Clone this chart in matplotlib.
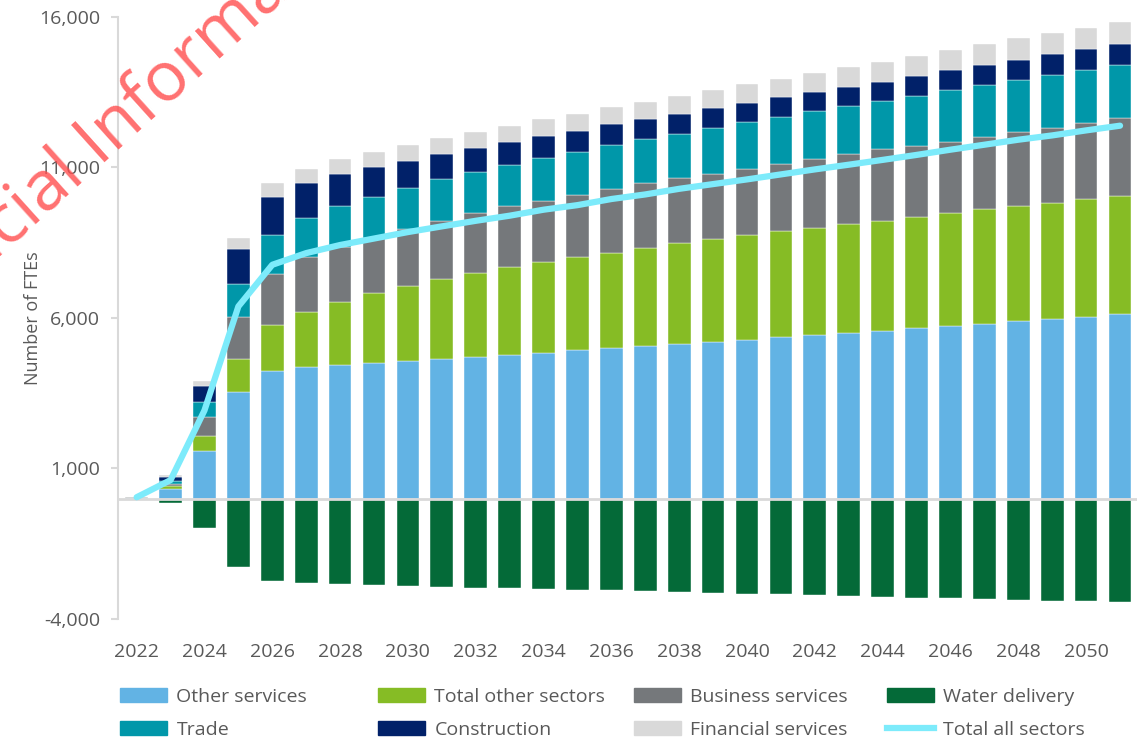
import numpy as np
import matplotlib
matplotlib.use("Agg")
import matplotlib.pyplot as plt
from matplotlib.patches import Patch
from matplotlib.lines import Line2D
from matplotlib.ticker import FuncFormatter

plt.rcParams['font.family'] = ['Open Sans', 'DejaVu Sans']

# FTE change by sector, 2022-2051
years = list(range(2022, 2052))
other_services = [20, 320, 1581, 3531, 4229, 4362, 4439, 4495, 4571, 4638,
                  4714, 4771, 4847, 4937, 4993, 5070, 5146, 5213, 5279, 5359,
                  5445, 5502, 5578, 5658, 5724, 5811, 5890, 5967, 6033, 6123]
other_sectors = [10, 90, 509, 1107, 1528, 1847, 2093, 2326, 2502, 2658,
                 2791, 2923, 3024, 3100, 3177, 3270, 3336, 3402, 3469, 3521,
                 3545, 3621, 3655, 3708, 3754, 3800, 3831, 3864, 3920, 3940]
business_services = [15, 80, 621, 1405, 1715, 1808, 1837, 1839, 1877, 1937,
                     1973, 2027, 2026, 2060, 2106, 2135, 2159, 2169, 2212, 2236,
                     2282, 2316, 2372, 2364, 2380, 2414, 2458, 2491, 2515, 2572]
trade = [10, 90, 488, 1077, 1276, 1295, 1352, 1370, 1379, 1375,
         1382, 1372, 1429, 1428, 1472, 1462, 1472, 1538, 1540, 1572,
         1595, 1604, 1604, 1655, 1706, 1706, 1728, 1751, 1771, 1780]
construction = [5, 150, 542, 1182, 1282, 1183, 1063, 977, 897, 841,
                778, 764, 721, 698, 687, 664, 674, 655, 643, 644,
                631, 642, 642, 650, 665, 674, 675, 698, 708, 698]
financial_services = [5, 40, 176, 345, 465, 465, 488, 493, 522, 521,
                      551, 522, 554, 554, 565, 574, 598, 598, 621, 618,
                      652, 644, 664, 675, 675, 688, 710, 687, 698, 721]
water_delivery = [-20, -155, -987, -2262, -2727, -2804, -2847, -2860, -2893, -2926,
                  -2960, -2980, -3003, -3027, -3047, -3070, -3093, -3126, -3159, -3179,
                  -3213, -3236, -3262, -3292, -3312, -3336, -3369, -3392, -3412, -3445]
total_all = [45, 615, 2930, 6385, 7768, 8156, 8425, 8640, 8855, 9044,
             9229, 9399, 9598, 9750, 9953, 10105, 10292, 10449, 10605, 10771,
             10937, 11093, 11253, 11418, 11592, 11757, 11923, 12066, 12233, 12389]

stack = [
    ("Other services", other_services, "#62B3E4"),
    ("Total other sectors", other_sectors, "#86BC25"),
    ("Business services", business_services, "#75787B"),
    ("Trade", trade, "#0097A9"),
    ("Construction", construction, "#012169"),
    ("Financial services", financial_services, "#D9D9D9"),
]
water_color = "#046A38"
line_color = "#7DEBFB"
text_grey = "#595959"
axis_grey = "#D9D9D9"

W, H = 1147, 747
fig = plt.figure(figsize=(W / 100, H / 100), dpi=100)
ax = fig.add_axes([118 / W, 1 - 619 / H, (1137 - 118) / W, (619 - 17) / H])

x = np.array(years)
bottom = np.zeros(len(years))
for name, vals, col in stack:
    ax.bar(x, vals, width=0.67, bottom=bottom, color=col,
           edgecolor="white", linewidth=0.3, zorder=2)
    bottom += np.array(vals)
ax.bar(x, water_delivery, width=0.67, color=water_color,
       edgecolor="white", linewidth=0.3, zorder=2)
ax.plot(x, total_all, color=line_color, linewidth=4.5,
        solid_capstyle="round", zorder=4)

ax.axhline(0, color=axis_grey, linewidth=2, zorder=3)

ax.set_xlim(2021.45, 2051.5)
ax.set_ylim(-4000, 16000)
ax.set_yticks([-4000, 1000, 6000, 11000, 16000])
ax.yaxis.set_major_formatter(FuncFormatter(lambda v, p: "{:,.0f}".format(v)))
ax.set_xticks(years[::2])

for s in ["top", "right", "bottom"]:
    ax.spines[s].set_visible(False)
ax.spines["left"].set_color(axis_grey)
ax.spines["left"].set_linewidth(1.5)
ax.tick_params(axis="y", colors=axis_grey, length=5, width=1.5,
               labelcolor=text_grey, labelsize=14, pad=8)
ax.tick_params(axis="x", length=0, labelcolor=text_grey, labelsize=14, pad=17)
ax.set_ylabel("Number of FTEs", color=text_grey, fontsize=13)
ax.yaxis.set_label_coords(-0.075, 0.5)

# legend: four columns placed by hand so the spacing matches
legend_cols = [
    (120, [Patch(color=stack[0][2]), Patch(color=stack[3][2])],
     [stack[0][0], stack[3][0]]),
    (378, [Patch(color=stack[1][2]), Patch(color=stack[4][2])],
     [stack[1][0], stack[4][0]]),
    (634, [Patch(color=stack[2][2]), Patch(color=stack[5][2])],
     [stack[2][0], stack[5][0]]),
    (887, [Patch(color=water_color), Line2D([], [], color=line_color, linewidth=4.5)],
     ["Water delivery", "Total all sectors"]),
]
for lx, handles, labels in legend_cols:
    fig.legend(handles, labels, loc="upper left",
               bbox_to_anchor=(lx / W, 1 - 688 / H), frameon=False,
               fontsize=14, handlelength=2.4, handleheight=0.72,
               handletextpad=0.5, labelspacing=0.78, borderpad=0,
               borderaxespad=0, labelcolor=text_grey)

# watermark from the source document, "c" of "Official" starts near (8, 250)
wm_size, wm_rot = 50, 42
probe = fig.text(0, 0, "Offi", fontsize=wm_size)
offi_w = probe.get_window_extent(fig.canvas.get_renderer()).width
probe.remove()
ang = np.radians(wm_rot)
sx = 8 - offi_w * np.cos(ang)
sy = (H - 250) - offi_w * np.sin(ang)
fig.text(sx / W, sy / H, "Official Information", color="#FF4D4D",
         alpha=0.8, fontsize=wm_size, rotation=wm_rot, rotation_mode="anchor",
         ha="left", va="baseline")

fig.savefig("out.png", dpi=100)
